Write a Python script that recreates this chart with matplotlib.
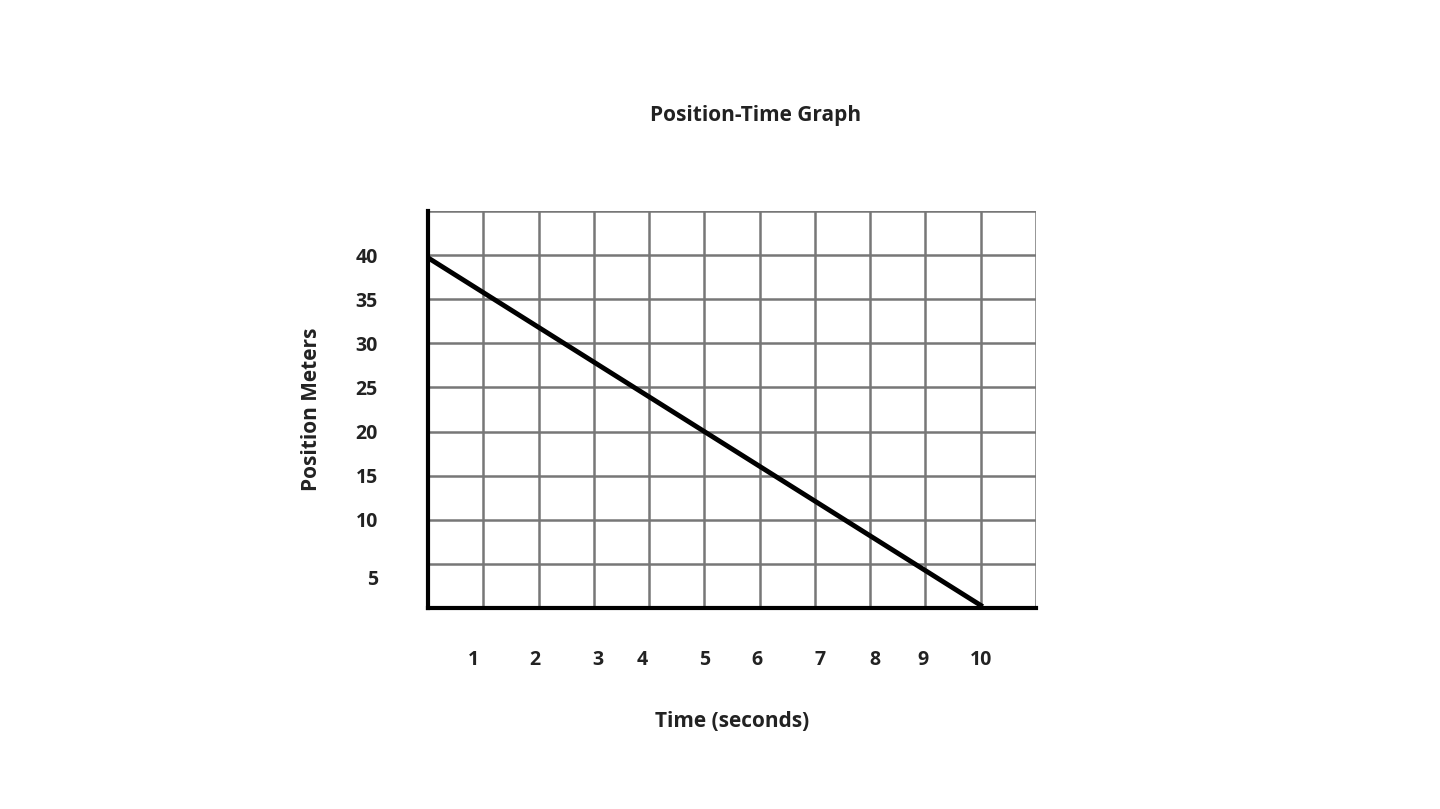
import matplotlib
matplotlib.use("Agg")
import matplotlib.pyplot as plt
import numpy as np

time_s = [0, 10]
position_m = [39.7, 0.3]
xtick_pos = [0.83, 1.94, 3.08, 3.88, 5.0, 5.96, 7.1, 8.08, 8.95, 10.0]
xtick_labels = ["1", "2", "3", "4", "5", "6", "7", "8", "9", "10"]
ytick_pos = [3.5, 10, 15, 20, 25, 30, 35, 40]
ytick_labels = ["5", "10", "15", "20", "25", "30", "35", "40"]

plt.rcParams['font.family'] = ['Open Sans', 'DejaVu Sans']
fig = plt.figure(figsize=(14.4, 8.09), dpi=100)
ax = fig.add_axes([0.2972, 0.2485, 0.4222, 0.4907])
ax.set_xlim(0, 11)
ax.set_ylim(0, 45)
for x in range(0, 12):
    ax.axvline(x, color="#777777", lw=1.8, zorder=1)
for y in range(0, 50, 5):
    ax.axhline(y, color="#777777", lw=1.8, zorder=1)
ax.plot(time_s, position_m, color="black", lw=3.5, zorder=3)
for s in ["top", "right"]:
    ax.spines[s].set_visible(False)
ax.spines["left"].set_linewidth(3)
ax.spines["bottom"].set_linewidth(3)
ax.spines["bottom"].set_zorder(4)
ax.set_xticks(xtick_pos)
ax.set_xticklabels(xtick_labels, fontsize=14, fontweight="bold", color="#222222")
ax.set_yticks(ytick_pos)
ax.set_yticklabels(ytick_labels, fontsize=14, fontweight="bold", color="#222222")
ax.tick_params(length=0)
ax.tick_params(axis="x", pad=30)
ax.tick_params(axis="y", pad=36)
ax.set_xlabel("Time (seconds)", fontsize=15, fontweight="bold", color="#222222", labelpad=30)
ax.set_ylabel("Position Meters", fontsize=15, fontweight="bold", color="#222222", labelpad=24)
fig.text(756 / 1440, 1 - 116 / 809, "Position-Time Graph", ha="center", va="center",
         fontsize=15, fontweight="bold", color="#222222")
fig.savefig("out.png", dpi=100)
